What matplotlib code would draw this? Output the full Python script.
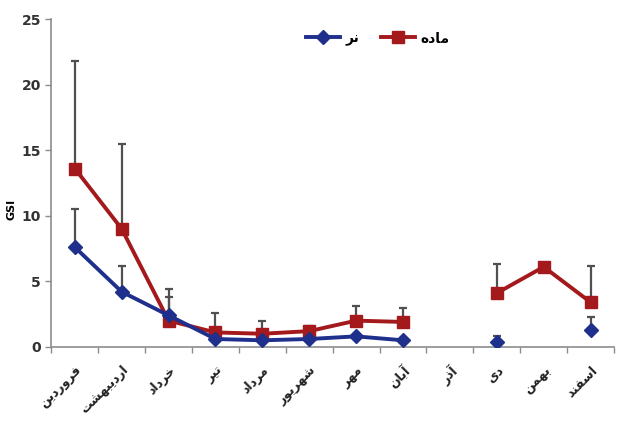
import numpy as np
import matplotlib
matplotlib.use("Agg")
import matplotlib.pyplot as plt

# -----------------------------
# Data
# -----------------------------
months = ["فروردین", "اردیبهشت", "خرداد", "تیر", "مرداد", "شهریور",
          "مهر", "آبان", "آذر", "دی", "بهمن", "اسفند"]
label_male = "نر"
label_female = "ماده"
y_label = "GSI"

female_gsi = [13.6, 9.0, 2.0, 1.1, 1.0, 1.2, 2.0, 1.9, np.nan, 4.1, 6.1, 3.4]
female_err = [8.2, 6.5, 2.4, 1.5, 1.0, 0.4, 1.1, 1.1, np.nan, 2.2, 0.3, 2.8]
male_gsi = [7.6, 4.2, 2.4, 0.6, 0.5, 0.6, 0.8, 0.5, np.nan, 0.4, np.nan, 1.3]
male_err = [2.9, 2.0, 1.4, 0.3, 0.2, 0.2, 0.2, 0.2, np.nan, 0.4, np.nan, 1.0]


# -----------------------------
# Minimal Persian shaping (matplotlib has no RTL / joining support)
# forms: isolated, final, initial, medial
# -----------------------------
FORMS = {
    "\u0627": ("\uFE8D", "\uFE8E", None, None),
    "\u0622": ("\uFE81", "\uFE82", None, None),
    "\u0628": ("\uFE8F", "\uFE90", "\uFE91", "\uFE92"),
    "\u062A": ("\uFE95", "\uFE96", "\uFE97", "\uFE98"),
    "\u062E": ("\uFEA5", "\uFEA6", "\uFEA7", "\uFEA8"),
    "\u062F": ("\uFEA9", "\uFEAA", None, None),
    "\u0630": ("\uFEAB", "\uFEAC", None, None),
    "\u0631": ("\uFEAD", "\uFEAE", None, None),
    "\u0632": ("\uFEAF", "\uFEB0", None, None),
    "\u0633": ("\uFEB1", "\uFEB2", "\uFEB3", "\uFEB4"),
    "\u0634": ("\uFEB5", "\uFEB6", "\uFEB7", "\uFEB8"),
    "\u0641": ("\uFED1", "\uFED2", "\uFED3", "\uFED4"),
    "\u0645": ("\uFEE1", "\uFEE2", "\uFEE3", "\uFEE4"),
    "\u0646": ("\uFEE5", "\uFEE6", "\uFEE7", "\uFEE8"),
    "\u0647": ("\uFEE9", "\uFEEA", "\uFEEB", "\uFEEC"),
    "\u0648": ("\uFEED", "\uFEEE", None, None),
    "\u06CC": ("\uFEEF", "\uFEF0", "\uFEF3", "\uFEF4"),
    "\u064A": ("\uFEEF", "\uFEF0", "\uFEF3", "\uFEF4"),
}


def shape(s):
    out = []
    for i, c in enumerate(s):
        f = FORMS.get(c)
        if f is None:
            out.append(c)
            continue
        prev = s[i - 1] if i > 0 else None
        nxt = s[i + 1] if i + 1 < len(s) else None
        jp = prev in FORMS and FORMS[prev][2] is not None
        jn = f[2] is not None and nxt in FORMS
        if jp and jn:
            out.append(f[3])
        elif jp:
            out.append(f[1])
        elif jn:
            out.append(f[2])
        else:
            out.append(f[0])
    return "".join(reversed(out))


# -----------------------------
# Plot
# -----------------------------
blue = "#1f2f8c"
red = "#a3191c"
grey = "#8c8c8c"

fig = plt.figure(figsize=(6.19, 4.23), dpi=100)
ax = fig.add_axes([0.083, 0.18, 0.909, 0.775])

x = np.arange(len(months))

# upper-only error bars
ax.errorbar(x, female_gsi, yerr=[np.zeros(len(x)), female_err], fmt="none",
            ecolor="#505050", elinewidth=1.6, capsize=3, capthick=1.6, zorder=1)
ax.errorbar(x, male_gsi, yerr=[np.zeros(len(x)), male_err], fmt="none",
            ecolor="#505050", elinewidth=1.6, capsize=3, capthick=1.6, zorder=1)

ax.plot(x, male_gsi, color=blue, lw=2.8, marker="D", ms=7,
        label=shape(label_male), zorder=3)
ax.plot(x, female_gsi, color=red, lw=2.8, marker="s", ms=9,
        label=shape(label_female), zorder=2)

ax.set_xlim(-0.5, len(months) - 0.5)
ax.set_ylim(0, 25)
ax.set_yticks([0, 5, 10, 15, 20, 25])

# ticks between categories, labels at the centres
ax.set_xticks(np.arange(len(months) + 1) - 0.5)
ax.set_xticklabels([])
ax.set_xticks(x, minor=True)
ax.set_xticklabels([shape(m) for m in months], minor=True, rotation=45,
                   ha="right", rotation_mode="anchor", fontsize=9,
                   fontweight="bold", color="#222222")
ax.tick_params(axis="x", which="minor", length=0, pad=12)
ax.tick_params(axis="both", which="major", direction="out", length=4,
               color=grey, width=1)
ax.tick_params(axis="y", labelsize=10, labelcolor="#333333")
for lbl in ax.get_yticklabels():
    lbl.set_fontweight("bold")

for side in ["top", "right"]:
    ax.spines[side].set_visible(False)
for side in ["left", "bottom"]:
    ax.spines[side].set_color(grey)
    ax.spines[side].set_linewidth(1.2)

ax.set_ylabel(y_label, fontsize=8, fontweight="bold")
ax.yaxis.set_label_coords(-0.062, 0.42)

ax.legend(loc="center", bbox_to_anchor=(0.58, 0.94), ncol=2, frameon=False,
          handlelength=2.5, columnspacing=1.5, handletextpad=0.4,
          prop={"weight": "bold", "size": 10})

fig.savefig("out.png", dpi=100)
